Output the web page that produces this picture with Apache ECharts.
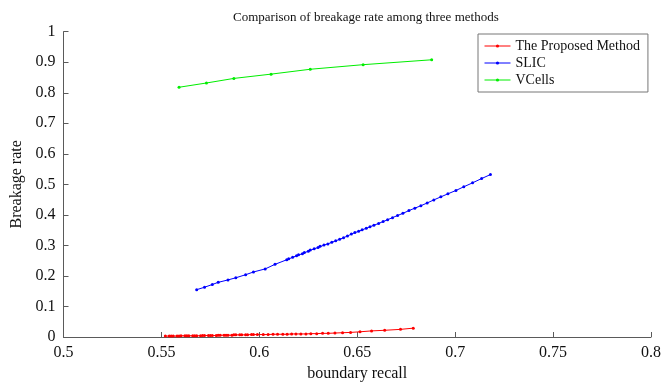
<!DOCTYPE html>
<html>
<head>
<meta charset="utf-8">
<script src="https://cdn.jsdelivr.net/npm/echarts@6/dist/echarts.min.js"></script>
<style>html,body{margin:0;padding:0;background:#fff}#c{width:665px;height:383px}</style>
</head>
<body>
<div id="c"></div>
<script>
const seriesNames = ['The Proposed Method', 'SLIC', 'VCells'];

const proposedX = [0.552,0.554,0.555,0.556,0.558,0.559,0.560,0.562,0.563,0.564,0.566,0.567,0.568,0.570,0.571,0.572,0.574,0.575,0.576,0.578,0.579,0.580,0.582,0.583,0.584,0.586,0.587,0.588,0.590,0.591,0.593,0.594,0.596,0.597,0.599,
  0.602,0.6045,0.607,0.6093,0.612,0.6142,0.6165,0.6187,0.6212,0.6238,0.6263,0.6293,0.6323,0.6352,0.6386,0.6425,0.6466,0.6514,0.6573,0.664,0.6721,0.6786];
const proposedY = [0.003,0.003,0.003,0.003,0.003,0.003,0.004,0.004,0.004,0.004,0.004,0.004,0.004,0.004,0.005,0.005,0.005,0.005,0.005,0.005,0.006,0.006,0.006,0.006,0.006,0.006,0.007,0.007,0.007,0.007,0.007,0.007,0.008,0.008,0.008,
  0.008,0.008,0.009,0.009,0.009,0.009,0.010,0.010,0.010,0.010,0.011,0.011,0.012,0.012,0.013,0.014,0.015,0.017,0.020,0.022,0.025,0.029];

const slicX = [0.568,0.572,0.576,0.579,0.584,0.588,0.593,0.597,0.603,0.608,0.614,
  0.615,0.617,0.619,0.620,0.622,0.623,0.625,0.626,0.628,0.630,0.631,0.633,0.635,0.637,0.639,0.641,0.643,0.645,0.647,
  0.6488,0.6507,0.6525,0.6546,0.6565,0.6585,0.6609,0.6632,0.6655,0.6680,0.6706,0.6733,0.6764,0.6794,0.6825,0.6857,0.6891,0.6927,0.6963,0.7004,0.7044,0.7089,0.7135,0.718];
const slicY = [0.155,0.163,0.172,0.179,0.187,0.194,0.204,0.213,0.223,0.238,0.253,
  0.256,0.261,0.266,0.269,0.273,0.277,0.281,0.285,0.289,0.293,0.297,0.301,0.305,0.310,0.315,0.320,0.325,0.331,0.337,
  0.342,0.346,0.351,0.356,0.361,0.366,0.372,0.378,0.384,0.391,0.398,0.405,0.414,0.422,0.430,0.439,0.449,0.459,0.469,0.480,0.492,0.505,0.519,0.532];

const vcellsX = [0.559,0.573,0.587,0.606,0.626,0.653,0.688];
const vcellsY = [0.818,0.832,0.847,0.861,0.877,0.892,0.908];

const xTicks = {min:0.5, max:0.8, interval:0.05};
const yTicks = {min:0, max:1, interval:0.1};

function pairs(xs, ys){ return xs.map((x,i)=>[x, ys[i]]); }

const FONT = '"Liberation Serif","DejaVu Serif",serif';
const chart = echarts.init(document.getElementById('c'), null, {renderer:'canvas'});
const axisCommon = {
  axisLine:{show:true, lineStyle:{color:'#5a5a5a', width:1}},
  axisTick:{show:true, inside:true, length:5, lineStyle:{color:'#5a5a5a'}},
  splitLine:{show:false},
  axisLabel:{color:'#111', fontFamily:FONT, fontSize:16},
  nameTextStyle:{color:'#111', fontFamily:FONT, fontSize:16}
};
function mkSeries(name, data, color){
  return {
    name, type:'line', data, symbol:'circle', symbolSize:3,
    lineStyle:{color, width:1}, itemStyle:{color},
    animation:false
  };
}
chart.setOption({
  animation:false,
  backgroundColor:'#fff',
  title:{text:'Comparison of breakage rate among three methods', left:228, top:6,
    textStyle:{fontFamily:FONT, fontSize:13, fontWeight:'normal', color:'#111'}},
  legend:{
    orient:'vertical', left:478, top:34, padding:[5,8,5,6], itemGap:3,
    itemWidth:26, itemHeight:4,
    lineStyle:{width:1},
    borderColor:'#777', borderWidth:1, backgroundColor:'#fff',
    textStyle:{fontFamily:FONT, fontSize:14, color:'#111', lineHeight:14},
    data:seriesNames
  },
  grid:{left:63.5, right:14, top:31.7, bottom:46, containLabel:false, outerBoundsMode:'none'},
  xAxis:Object.assign({type:'value', min:xTicks.min, max:xTicks.max, interval:xTicks.interval,
    name:'boundary recall', nameLocation:'middle', nameGap:29}, axisCommon,
    {axisLabel:Object.assign({}, axisCommon.axisLabel, {margin:8})}),
  yAxis:Object.assign({type:'value', min:yTicks.min, max:yTicks.max, interval:yTicks.interval,
    name:'Breakage rate', nameLocation:'middle', nameGap:37}, axisCommon,
    {axisLabel:Object.assign({}, axisCommon.axisLabel, {margin:8})}),
  series:[
    mkSeries(seriesNames[0], pairs(proposedX, proposedY), '#ff0000'),
    mkSeries(seriesNames[1], pairs(slicX, slicY), '#0000ff'),
    mkSeries(seriesNames[2], pairs(vcellsX, vcellsY), '#00ee00')
  ]
});
</script>
</body>
</html>
